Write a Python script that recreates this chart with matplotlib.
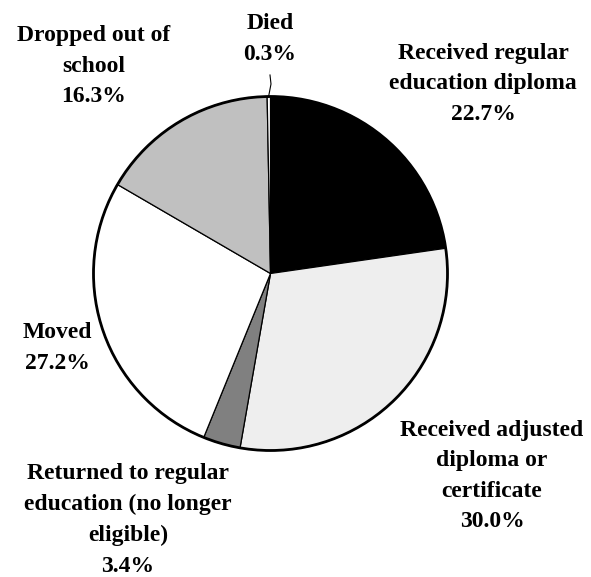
import matplotlib
matplotlib.use('Agg')
import matplotlib.pyplot as plt

# ── data ────────────────────────────────────────────────────
labels = ['Received regular\neducation diploma',
          'Received adjusted\ndiploma or\ncertificate',
          'Returned to regular\neducation (no longer\neligible)',
          'Moved',
          'Dropped out of\nschool',
          'Died']
shares = [22.7, 30.0, 3.4, 27.2, 16.3, 0.3]

# ── style / layout (pixels, y measured from top) ────────────
W, H = 591, 577
CX, CY, R = 270.5, 273.5, 177
slice_colors = ['#000000', '#eeeeee', '#808080', '#ffffff', '#c0c0c0', '#ffffff']
label_pos = [(483, 84), (492, 476), (128, 520), (57, 348), (94, 66), (270, 39)]
FONT = dict(family='Liberation Serif', fontweight='bold', fontsize=17)

fig = plt.figure(figsize=(W / 100, H / 100), dpi=100)
fig.patch.set_facecolor('white')
ax = fig.add_axes([0, 0, 1, 1])

wedges, _ = ax.pie(shares, colors=slice_colors, startangle=90, counterclock=False,
                   center=(CX, H - CY), radius=R, frame=True,
                   wedgeprops=dict(edgecolor='black', linewidth=0.9))
ax.set_xlim(0, W)
ax.set_ylim(0, H)
ax.set_aspect('equal')
ax.axis('off')
ax.add_patch(plt.Circle((CX, H - CY), R, fill=False, edgecolor='black', linewidth=2))

for lab, val, (x, y) in zip(labels, shares, label_pos):
    ax.text(x, H - y, f"{lab}\n{val:.1f}%", ha='center', va='center',
            multialignment='center', linespacing=1.6, **FONT)

# leader line for the tiny "Died" slice
ax.plot([270, 271, 268.5], [H - 75, H - 84, H - 97], color='black', linewidth=0.8)

plt.savefig('out.png', dpi=100, facecolor='white')
plt.close()
